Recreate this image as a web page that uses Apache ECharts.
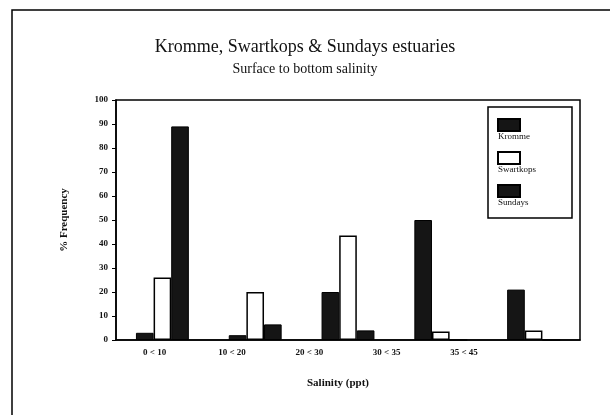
<!DOCTYPE html>
<html>
<head>
<meta charset="utf-8">
<script src="https://cdn.jsdelivr.net/npm/echarts@6/dist/echarts.min.js"></script>
<style>
  html, body { margin: 0; padding: 0; background: #fff; }
  #chart { width: 610px; height: 415px; }
</style>
</head>
<body>
<div id="chart"></div>
<script>
// Категории солёности (столбцы) и подписи под осью
const groups = ["g1", "g2", "g3", "g4", "g5"];
const salinityLabels = ["0 < 10", "10 < 20", "20 < 30", "30 < 35", "35 < 45", ""];

// % частоты по эстуариям
const kromme = [3, 2, 20, 50, 21];
const swartkops = [26, 20, 43.5, 3.5, 4];
const sundays = [89, 6.5, 4, 0, 0];

const yTicks = { min: 0, max: 100, interval: 10 };

const serif = "Liberation Serif";
const ink = "#111";

const chart = echarts.init(document.getElementById("chart"));

const option = {
    backgroundColor: "#fff",
    animation: false,
    title: {
        text: "Kromme, Swartkops & Sundays estuaries",
        subtext: "Surface to bottom salinity",
        left: "center",
        top: 33,
        itemGap: 6,
        textStyle: { fontFamily: serif, fontSize: 18, fontWeight: "normal", color: ink },
        subtextStyle: { fontFamily: serif, fontSize: 14, color: ink }
    },
    graphic: [{
        type: "rect",
        shape: { x: 12, y: 10, width: 650, height: 450 },
        style: { fill: "none", stroke: "#000", lineWidth: 1.5 },
        silent: true
    }],
    legend: {
        orient: "vertical",
        left: 488,
        top: 107,
        padding: [0, 36, 9, 9],
        itemGap: -3,
        itemWidth: 22,
        itemHeight: 12,
        icon: "rect",
        borderColor: "#000",
        borderWidth: 1.5,
        formatter: (name) => "\n\n" + name, // подпись под значком
        textStyle: {
            fontFamily: serif, fontSize: 9, color: ink,
            lineHeight: 12,
            padding: [0, 0, 0, -27]
        },
        data: ["Kromme", "Swartkops", "Sundays"]
    },
    grid: {
        left: 116, right: 30, top: 100, bottom: 75,
        show: true, borderColor: "#000", borderWidth: 1.5
    },
    xAxis: [{
        type: "category",
        data: groups,
        position: "bottom",
        axisLine: { lineStyle: { color: "#000", width: 1.5 } },
        axisTick: { length: 4, lineStyle: { color: "#000", width: 1.2 } },
        axisLabel: { show: false },
        name: "Salinity (ppt)",
        nameLocation: "middle",
        nameGap: 38,
        nameTextStyle: {
            fontFamily: serif, fontSize: 11, fontWeight: "bold", color: ink,
            padding: [0, 20, 0, 0]
        }
    }, {
        type: "category",
        data: salinityLabels,
        position: "bottom",
        axisLine: { show: false },
        axisTick: { show: false },
        axisLabel: {
            margin: 8, interval: 0,
            fontFamily: serif, fontSize: 9, fontWeight: "bold", color: ink
        }
    }],
    yAxis: {
        type: "value",
        min: yTicks.min,
        max: yTicks.max,
        interval: yTicks.interval,
        splitLine: { show: false },
        axisLine: { show: true, lineStyle: { color: "#000", width: 1.5 } },
        axisTick: { show: true, length: 4, lineStyle: { color: "#000" } },
        axisLabel: { margin: 8, fontFamily: serif, fontSize: 9, fontWeight: "bold", color: ink },
        name: "% Frequency",
        nameLocation: "middle",
        nameGap: 46,
        nameTextStyle: { fontFamily: serif, fontSize: 11, fontWeight: "bold", color: ink }
    },
    series: [{
        name: "Kromme",
        type: "bar",
        xAxisIndex: 0,
        data: kromme,
        barGap: "0%",
        barCategoryGap: "43%",
        itemStyle: { color: "#151515", borderColor: "#000", borderWidth: 1 }
    }, {
        name: "Swartkops",
        type: "bar",
        xAxisIndex: 0,
        data: swartkops,
        itemStyle: { color: "#fff", borderColor: "#000", borderWidth: 1.5 }
    }, {
        name: "Sundays",
        type: "bar",
        xAxisIndex: 0,
        data: sundays,
        itemStyle: { color: "#151515", borderColor: "#000", borderWidth: 1 }
    }]
};

chart.setOption(option);
</script>
</body>
</html>
